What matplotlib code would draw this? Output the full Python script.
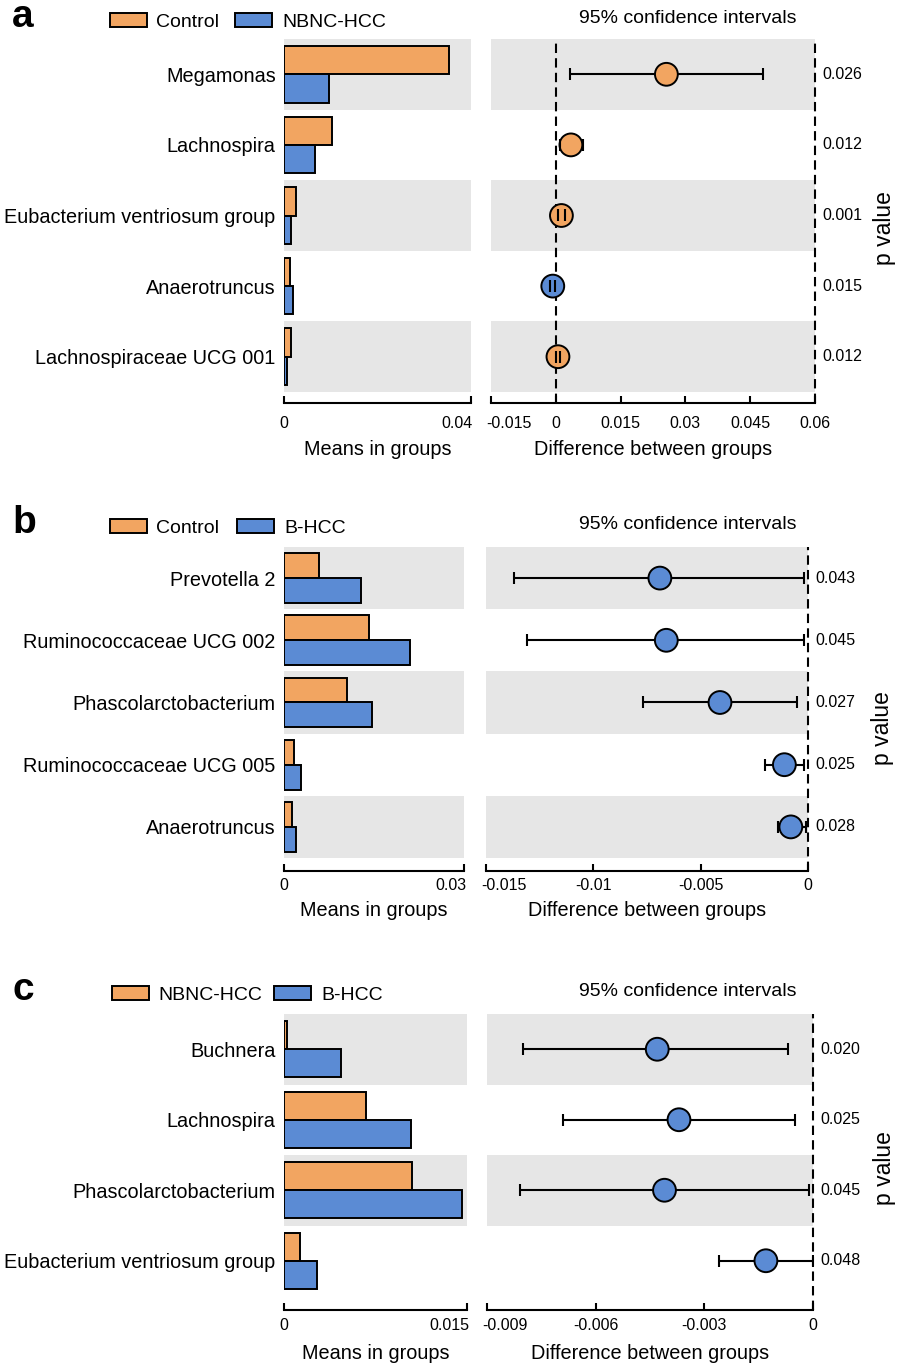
import matplotlib
matplotlib.use("Agg")
import matplotlib.pyplot as plt
import numpy as np
from matplotlib.patches import Rectangle

plt.rcParams["font.family"] = ["Liberation Sans", "DejaVu Sans"]
plt.rcParams["axes.unicode_minus"] = False

# panel a: Control vs NBNC-HCC
a_taxa = ["Megamonas", "Lachnospira", "Eubacterium ventriosum group", "Anaerotruncus", "Lachnospiraceae UCG 001"]
a_groups = ["Control", "NBNC-HCC"]
a_first = [0.0353, 0.0103, 0.0026, 0.0013, 0.0015]
a_second = [0.0096, 0.0066, 0.0015, 0.0019, 0.0006]
a_diff = [0.0256, 0.0035, 0.0013, -0.0007, 0.0005]
a_low = [0.0032, 0.0010, 0.0005, -0.0013, 0.0001]
a_high = [0.0480, 0.0062, 0.0022, -0.0001, 0.0010]
a_p = ["0.026", "0.012", "0.001", "0.015", "0.012"]
a_mean_ticks = [0, 0.04]
a_mean_labels = ["0", "0.04"]
a_diff_ticks = [-0.015, 0, 0.015, 0.03, 0.045, 0.06]
a_diff_labels = ["-0.015", "0", "0.015", "0.03", "0.045", "0.06"]

# panel b: Control vs B-HCC
b_taxa = ["Prevotella 2", "Ruminococcaceae UCG 002", "Phascolarctobacterium", "Ruminococcaceae UCG 005", "Anaerotruncus"]
b_groups = ["Control", "B-HCC"]
b_first = [0.0058, 0.0142, 0.0105, 0.0017, 0.0013]
b_second = [0.0128, 0.0210, 0.0147, 0.0028, 0.0020]
b_diff = [-0.0069, -0.0066, -0.0041, -0.0011, -0.0008]
b_low = [-0.0137, -0.0131, -0.0077, -0.0020, -0.0014]
b_high = [-0.0002, -0.0002, -0.0005, -0.0002, -0.0001]
b_p = ["0.043", "0.045", "0.027", "0.025", "0.028"]
b_mean_ticks = [0, 0.03]
b_mean_labels = ["0", "0.03"]
b_diff_ticks = [-0.015, -0.01, -0.005, 0]
b_diff_labels = ["-0.015", "-0.01", "-0.005", "0"]

# panel c: NBNC-HCC vs B-HCC
c_taxa = ["Buchnera", "Lachnospira", "Phascolarctobacterium", "Eubacterium ventriosum group"]
c_groups = ["NBNC-HCC", "B-HCC"]
c_first = [0.00025, 0.0067, 0.0105, 0.0013]
c_second = [0.0047, 0.0104, 0.0146, 0.0027]
c_diff = [-0.0043, -0.0037, -0.0041, -0.0013]
c_low = [-0.0080, -0.0069, -0.0081, -0.0026]
c_high = [-0.0007, -0.0005, -0.0001, 0.0]
c_p = ["0.020", "0.025", "0.045", "0.048"]
c_mean_ticks = [0, 0.015]
c_mean_labels = ["0", "0.015"]
c_diff_ticks = [-0.009, -0.006, -0.003, 0]
c_diff_labels = ["-0.009", "-0.006", "-0.003", "0"]

W, H = 898, 1364
ORANGE = "#F2A561"
BLUE = "#5B8BD4"
BAND = "#E6E6E6"
TICK_FS = 11.5


def box(x0, y0, x1, y1):
    return [x0 / W, 1 - y1 / H, (x1 - x0) / W, (y1 - y0) / H]


def fig_rect(fig, x0, y0, x1, y1, color):
    fig.add_artist(Rectangle((x0 / W, 1 - y1 / H), (x1 - x0) / W, (y1 - y0) / H,
                             transform=fig.transFigure, facecolor=color, edgecolor="black", lw=1.4))


def set_ticks(ax, ticks, labels, layout, edge):
    # the label at the panel's inner edge is nudged inward, as in the reference
    shown = list(labels)
    shown[edge] = ""
    ax.set_xticks(ticks, shown)
    ax.tick_params(axis="x", direction="in", length=5, width=1.5, labelsize=TICK_FS, pad=layout["tick_pad"])
    dx, ha = (1.5, "right") if edge == -1 else (-3.5, "left")
    ax.annotate(labels[edge], xy=(ticks[edge], 0), xycoords=("data", "axes fraction"),
                xytext=(dx, -(layout["outward"] + layout["tick_pad"])), textcoords="offset points",
                ha=ha, va="top", fontsize=TICK_FS)


def draw_panel(fig, letter, groups, taxa, first, second, diff, low, high, pvals,
               mean_ticks, mean_labels, diff_ticks, diff_labels, layout):
    top, bottom = layout["rows"]
    n = len(taxa)
    y = np.arange(n)
    outward = layout["outward"]

    # header
    hb = layout["header"]
    fig.text(12 / W, 1 - hb / H, letter, fontsize=28, fontweight="bold", va="baseline")
    lx = layout["legend_x"]
    fig_rect(fig, lx[0], hb - 14, lx[0] + 37, hb, ORANGE)
    fig.text((lx[0] + 46) / W, 1 - hb / H, groups[0], fontsize=14, va="baseline")
    fig_rect(fig, lx[1], hb - 14, lx[1] + 37, hb, BLUE)
    fig.text((lx[1] + 47) / W, 1 - hb / H, groups[1], fontsize=14, va="baseline")
    fig.text(688 / W, 1 - (hb - 4) / H, "95% confidence intervals", fontsize=14, ha="center", va="baseline")
    fig.text(layout["pvx"] / W, 1 - layout["pvy"] / H, "p value", fontsize=16.5, rotation=90, ha="center", va="center")

    # means in groups
    ax = fig.add_axes(box(284, top, layout["left_end"], bottom))
    for i in range(0, n, 2):
        ax.axhspan(i - 0.5, i + 0.5, color=BAND, lw=0, zorder=0)
    ax.barh(y - 0.2, first, height=0.4, color=ORANGE, edgecolor="black", lw=1.4, zorder=2)
    ax.barh(y + 0.2, second, height=0.4, color=BLUE, edgecolor="black", lw=1.4, zorder=2)
    ax.set_xlim(mean_ticks[0], mean_ticks[-1])
    ax.set_ylim(n - 0.5, -0.5)
    ax.set_yticks(y, taxa, fontsize=14.3)
    ax.tick_params(axis="y", length=0, pad=6)
    set_ticks(ax, mean_ticks, mean_labels, layout, -1)
    ax.set_xlabel("Means in groups", fontsize=14.3, labelpad=layout["label_pad"])
    ax.set_facecolor("none")

    # difference between groups
    ax2 = fig.add_axes(box(layout["right_x"][0], top, layout["right_x"][1], bottom))
    for i in range(0, n, 2):
        ax2.axhspan(i - 0.5, i + 0.5, color=BAND, lw=0, zorder=0)
    d = np.array(diff)
    xerr = [d - np.array(low), np.array(high) - d]
    eb = ax2.errorbar(d, y, xerr=xerr, fmt="none", ecolor="black", elinewidth=1.5,
                      capsize=4, capthick=1.5, zorder=2)
    for cap in eb[1]:
        cap.set_zorder(4)
    colors = [ORANGE if v > 0 else BLUE for v in diff]
    ax2.scatter(d, y, s=270, c=colors, edgecolors="black", linewidths=1.4, zorder=3)
    ax2.set_xlim(diff_ticks[0], diff_ticks[-1])
    ax2.set_ylim(n - 0.5, -0.5)
    frac = outward * 100 / 72 / (bottom - top)
    for xv in sorted({0, diff_ticks[-1]}):
        ax2.axvline(xv, ymin=-frac, ymax=1, color="black", lw=1.5, ls=(0, (4.5, 2.5)), clip_on=False, zorder=1)
    ax2.set_yticks([])
    set_ticks(ax2, diff_ticks, diff_labels, layout, 0)
    ax2.set_xlabel("Difference between groups", fontsize=14.3, labelpad=layout["label_pad"])
    ax2.set_facecolor("none")
    for i, p in enumerate(pvals):
        ax2.annotate(p, xy=(1, i), xycoords=("axes fraction", "data"), xytext=(5, 0),
                     textcoords="offset points", va="center", ha="left", fontsize=TICK_FS)

    for a in (ax, ax2):
        for side in ("top", "right", "left"):
            a.spines[side].set_visible(False)
        a.spines["bottom"].set_position(("outward", outward))
        a.spines["bottom"].set_linewidth(1.5)


fig = plt.figure(figsize=(W / 100, H / 100), dpi=100)

draw_panel(fig, "a", a_groups, a_taxa, a_first, a_second, a_diff, a_low, a_high, a_p,
           a_mean_ticks, a_mean_labels, a_diff_ticks, a_diff_labels,
           dict(rows=(39, 392), left_end=471, right_x=(491, 815), outward=8, tick_pad=9, label_pad=7,
                header=27, legend_x=(110, 235), pvx=885, pvy=228))
draw_panel(fig, "b", b_groups, b_taxa, b_first, b_second, b_diff, b_low, b_high, b_p,
           b_mean_ticks, b_mean_labels, b_diff_ticks, b_diff_labels,
           dict(rows=(547, 858), left_end=464, right_x=(486, 808), outward=9.4, tick_pad=5, label_pad=6,
                header=533, legend_x=(110, 237), pvx=883, pvy=728))
draw_panel(fig, "c", c_groups, c_taxa, c_first, c_second, c_diff, c_low, c_high, c_p,
           c_mean_ticks, c_mean_labels, c_diff_ticks, c_diff_labels,
           dict(rows=(1014, 1296), left_end=467, right_x=(487, 813), outward=10, tick_pad=6, label_pad=8,
                header=1000, legend_x=(112, 274), pvx=884, pvy=1168))

fig.savefig("out.png", dpi=100)
